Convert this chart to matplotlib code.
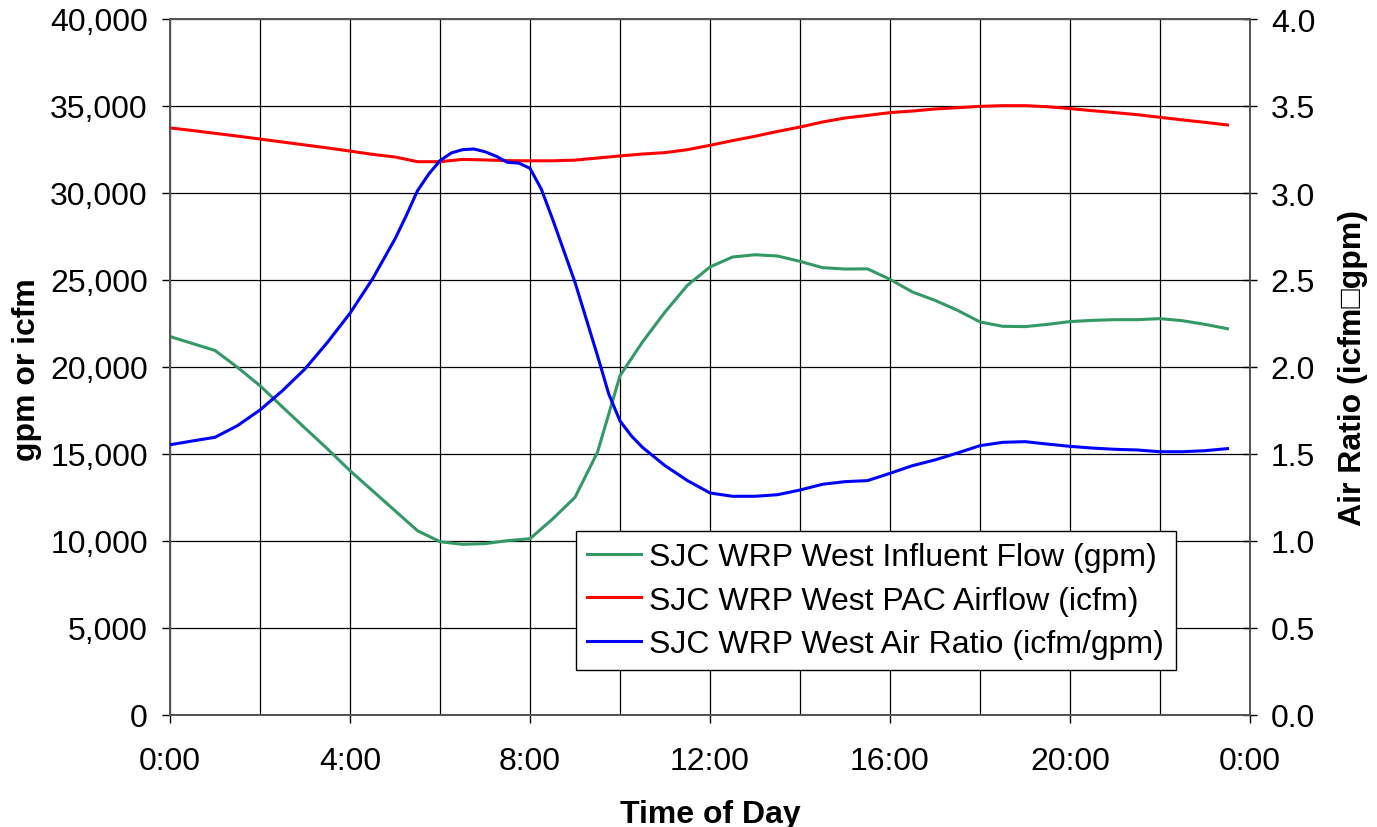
import matplotlib
matplotlib.use("Agg")
import matplotlib.pyplot as plt
from matplotlib.ticker import FuncFormatter, MultipleLocator

plt.rcParams['font.family'] = ['Liberation Sans', 'DejaVu Sans']

# ---- data (hours of day) ----
hours_half = [i * 0.5 for i in range(48)]  # 0:00 .. 23:30

influent_gpm = [21750, 21350, 20950, 19980, 18925, 17700, 16490, 15290, 14040, 12890,
                11740, 10590, 9960, 9810, 9850, 10020, 10130, 11260, 12510, 15100,
                19500, 21440, 23160, 24700, 25750, 26320, 26450, 26380, 26070, 25710,
                25630, 25640, 25040, 24310, 23830, 23260, 22590, 22340, 22320, 22450,
                22610, 22680, 22720, 22720, 22780, 22660, 22450, 22200]

airflow_icfm = [33740, 33590, 33430, 33270, 33100, 32930, 32760, 32590, 32410, 32220,
                32070, 31800, 31800, 31930, 31900, 31860, 31850, 31850, 31890, 32010,
                32130, 32240, 32320, 32490, 32740, 33010, 33260, 33540, 33790, 34080,
                34310, 34460, 34620, 34710, 34830, 34900, 34980, 35020, 35020, 34960,
                34850, 34730, 34620, 34500, 34350, 34200, 34060, 33910]

ratio_hours = [0, 0.5, 1.0, 1.5, 2.0, 2.5, 3.0, 3.5, 4.0, 4.5, 5.0, 5.25, 5.5, 5.75,
               6.0, 6.25, 6.5, 6.75, 7.0, 7.25, 7.5, 7.75, 8.0, 8.25, 8.5, 8.75, 9.0,
               9.25, 9.5, 9.75, 10.0, 10.25, 10.5, 11.0, 11.5, 12.0, 12.5, 13.0, 13.5,
               14.0, 14.5, 15.0, 15.5, 16.0, 16.5, 17.0, 17.5, 18.0, 18.5, 19.0, 19.5,
               20.0, 20.5, 21.0, 21.5, 22.0, 22.5, 23.0, 23.5]
air_ratio = [1.553, 1.575, 1.596, 1.663, 1.753, 1.864, 1.989, 2.142, 2.309, 2.506,
             2.736, 2.870, 3.013, 3.109, 3.186, 3.230, 3.249, 3.253, 3.237, 3.211,
             3.176, 3.172, 3.142, 3.023, 2.851, 2.669, 2.487, 2.276, 2.065, 1.845,
             1.690, 1.605, 1.538, 1.433, 1.347, 1.276, 1.257, 1.257, 1.266, 1.293,
             1.326, 1.341, 1.347, 1.389, 1.433, 1.466, 1.506, 1.548, 1.567, 1.571,
             1.557, 1.544, 1.534, 1.527, 1.523, 1.513, 1.513, 1.519, 1.531]

x_tick_labels = ["0:00", "4:00", "8:00", "12:00", "16:00", "20:00", "0:00"]

labels = ["SJC WRP West Influent Flow (gpm)",
          "SJC WRP West PAC Airflow (icfm)",
          "SJC WRP West Air Ratio (icfm/gpm)"]

# ---- figure ----
fig = plt.figure(figsize=(13.77, 8.28), dpi=100)
W, H = 1377, 828
ax = fig.add_axes([170 / W, 1 - 716 / H, 1080 / W, 696 / H])
ax2 = ax.twinx()

FS = 23

l1, = ax.plot(hours_half, influent_gpm, color='#339966', lw=2.2, zorder=3)
l2, = ax.plot(hours_half, airflow_icfm, color='#FF0000', lw=2.2, zorder=3)
l3, = ax2.plot(ratio_hours, air_ratio, color='#0000FF', lw=2.2, zorder=3)

ax.set_xlim(0, 24)
ax.set_ylim(0, 40000)
ax2.set_ylim(0, 4.0)

ax.xaxis.set_minor_locator(MultipleLocator(2))
ax.set_xticks([0, 4, 8, 12, 16, 20, 24])
ax.set_xticklabels(x_tick_labels)
ax.yaxis.set_major_locator(MultipleLocator(5000))
ax.yaxis.set_major_formatter(FuncFormatter(lambda v, p: f"{int(v):,}"))
ax2.yaxis.set_major_locator(MultipleLocator(0.5))
ax2.yaxis.set_major_formatter(FuncFormatter(lambda v, p: f"{v:.1f}"))

ax.grid(True, which='major', axis='y', color='black', lw=0.9)
ax.grid(True, which='both', axis='x', color='black', lw=0.9)
ax.set_axisbelow(True)

ax.tick_params(axis='x', which='major', direction='out', length=6, width=1,
               labelsize=FS, pad=16)
ax.tick_params(axis='x', which='minor', length=0)
ax.tick_params(axis='y', direction='out', length=6, width=1, labelsize=FS, pad=10)
ax2.tick_params(axis='y', direction='inout', length=10, width=1, labelsize=FS, pad=10)

for a in (ax, ax2):
    for s in a.spines.values():
        s.set_color('#555555')
        s.set_linewidth(1.3)

ax.set_ylabel("gpm or icfm", fontsize=FS, fontweight='bold')
ax.yaxis.set_label_coords(-0.1185, 0.497)
ax2.set_ylabel("Air Ratio (icfm\u25a1gpm)", fontsize=FS, fontweight='bold')
ax2.yaxis.set_label_coords(1.0815, 0.5)
ax.set_xlabel("Time of Day", fontsize=FS, fontweight='bold')
ax.xaxis.set_label_coords(0.5, -0.1207)

leg = ax2.legend([l1, l2, l3], labels, loc='upper left',
                 bbox_to_anchor=(576 / W, 1 - 532 / H), bbox_transform=fig.transFigure,
                 borderaxespad=0, fontsize=FS, frameon=True, fancybox=False,
                 handlelength=1.7, handletextpad=0.25, labelspacing=0.42,
                 borderpad=0.35)
leg.get_frame().set_edgecolor('black')
leg.get_frame().set_linewidth(1.0)
leg.get_frame().set_alpha(1.0)
leg.set_zorder(10)

fig.savefig("out.png", dpi=100)
